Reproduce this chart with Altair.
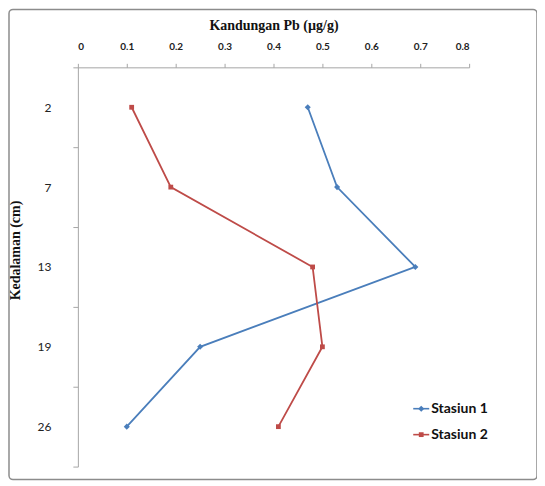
import altair as alt
import pandas as pd

# ---- data ----
depth = ["2", "7", "13", "19", "26"]
stasiun1 = [0.47, 0.53, 0.69, 0.25, 0.10]
stasiun2 = [0.11, 0.19, 0.48, 0.50, 0.41]
series = ["Stasiun 1", "Stasiun 2"]
colors = ["#4A7EBB", "#BE4B48"]
x_ticks = [0, 0.1, 0.2, 0.3, 0.4, 0.5, 0.6, 0.7, 0.8]

rows = []
for i, d in enumerate(depth):
    rows.append({"kedalaman": d, "urut": i, "seri": series[0], "garis": series[0], "pb": stasiun1[i]})
    rows.append({"kedalaman": d, "urut": i, "seri": series[1], "garis": series[1], "pb": stasiun2[i]})
df = pd.DataFrame(rows)

W, H = 392, 400
PAD = {"left": 70, "top": 59, "right": 68, "bottom": 15}
LX, LY = 335, 333
SERIF = "'Liberation Serif', 'Times New Roman', serif"

common_legend = dict(
    title=None,
    orient="none",
    legendX=LX,
    legendY=LY,
    symbolSize=256,
    labelFont="Lato",
    labelFontSize=14,
    labelFontWeight="bold",
    labelColor="#111111",
    labelOffset=1,
    rowPadding=10,
)

line_legend = alt.Legend(symbolType="M-1,0H1", symbolStrokeWidth=1.6, **common_legend)
marker_legend = alt.Legend(labelOpacity=0, **common_legend)

marker_paths = [
    "M0,-0.38L0.38,0L0,0.38L-0.38,0Z",
    "M-0.3,-0.3H0.3V0.3H-0.3Z",
]

x = alt.X(
    "pb:Q",
    scale=alt.Scale(domain=[0, 0.8], nice=False, zero=True),
    axis=alt.Axis(
        orient="top",
        values=x_ticks,
        format="~g",
        grid=False,
        title="Kandungan Pb (µg/g)",
        titleFont=SERIF,
        titleFontSize=14,
        titleFontWeight="bold",
        titleColor="#111111",
        titlePadding=9,
        labelFont="Lato",
        labelFontSize=10,
        labelFontWeight="bold",
        labelColor="#222222",
        labelPadding=12,
        tickSize=4,
        tickColor="#a6a6a6",
        domainColor="#a6a6a6",
    ),
)

y = alt.Y(
    "kedalaman:N",
    sort=depth,
    bandPosition=0.5,
    scale=alt.Scale(type="band", paddingInner=0, paddingOuter=0),
    axis=alt.Axis(
        title="Kedalaman (cm)",
        titleFont=SERIF,
        titleFontSize=14,
        titleFontWeight="bold",
        titleColor="#111111",
        titlePadding=15,
        titleY=183,
        labelFont="Lato",
        labelFontSize=12,
        labelColor="#222222",
        labelPadding=22,
        labelAngle=0,
        tickBand="extent",
        tickExtra=True,
        tickSize=5,
        tickColor="#a6a6a6",
        domainColor="#a6a6a6",
        grid=False,
    ),
)

lines = alt.Chart(df).mark_line(strokeWidth=1.8).encode(
    x=x,
    y=y,
    stroke=alt.Stroke("garis:N", scale=alt.Scale(range=colors), legend=line_legend),
    order=alt.Order("urut:Q"),
)

points = alt.Chart(df).mark_point(filled=True, size=256, opacity=1, strokeWidth=0).encode(
    x=x,
    y=y,
    fill=alt.Fill("seri:N", scale=alt.Scale(domain=series, range=colors), legend=marker_legend),
    shape=alt.Shape("seri:N", scale=alt.Scale(domain=series, range=marker_paths), legend=marker_legend),
)

frame = alt.Chart(alt.Data(values=[{}])).mark_rect(
    fillOpacity=0, stroke="#8c8c8c", strokeWidth=1.5, cornerRadius=4, clip=False
).encode(
    x=alt.value(-69), x2=alt.value(460), y=alt.value(-58), y2=alt.value(413)
)

chart = (
    alt.layer(frame, lines, points)
    .properties(width=W, height=H, padding=PAD, autosize="none", background="white")
    .configure_view(stroke=None)
)

chart.save("out.html", embed_options={"renderer": "svg", "actions": False})
